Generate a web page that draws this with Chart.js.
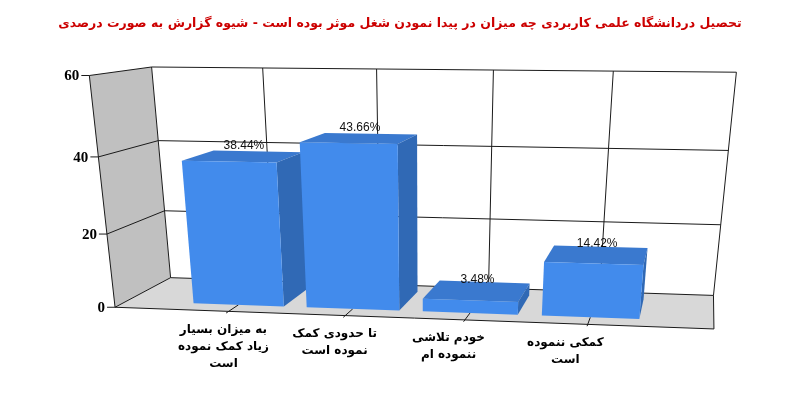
<!DOCTYPE html>
<html lang="fa">
<head>
    <meta charset="UTF-8">
    <title>تحصیل دردانشگاه علمی کاربردی</title>
    <script src="https://cdn.jsdelivr.net/npm/chart.js"></script>
    <style>
        html, body { margin: 0; padding: 0; background: #fff; }
    </style>
</head>
<body>
    <canvas id="chart" width="800" height="400"></canvas>
    <script>
        const titleText = 'تحصیل دردانشگاه علمی کاربردی چه میزان در پیدا نمودن شغل موثر بوده است - شیوه گزارش به صورت درصدی';
        const categories = [
            ['به میزان بسیار', 'زیاد کمک نموده', 'است'],
            ['تا حدودی کمک', 'نموده است'],
            ['خودم تلاشی', 'ننموده ام'],
            ['کمکی ننموده', 'است']
        ];
        const percents = [38.44, 43.66, 3.48, 14.42];
        const catPositions = [1, 2, 3, 4];
        const yTicks = [0, 20, 40, 60];

        // where the corners of the 3d box land on the page: [x, y, depth, px, py]
        const frameRefs = [
            [0, 60, 0, 89, 75], [0, 40, 0, 98, 157], [0, 20, 0, 107, 234], [0, 0, 0, 116, 307],
            [0, 60, 1, 152, 67], [0, 40, 1, 158, 141], [0, 20, 1, 164, 211], [0, 0, 1, 170, 278],
            [5, 60, 1, 737, 73], [5, 40, 1, 728, 150], [5, 20, 1, 721, 224], [5, 0, 1, 714, 295],
            [5, 0, 0, 713, 330],
            [1, 60, 1, 263, 68], [2, 60, 1, 377, 69], [3, 60, 1, 493, 70], [4, 60, 1, 613, 71],
            [1, 0, 0, 229, 311], [2, 0, 0, 346, 316], [3, 0, 0, 464, 319], [4, 0, 0, 588, 325]
        ];

        function solve(M) {
            const n = M.length;
            for (let c = 0; c < n; c++) {
                let p = c;
                for (let r = c + 1; r < n; r++) if (Math.abs(M[r][c]) > Math.abs(M[p][c])) p = r;
                [M[c], M[p]] = [M[p], M[c]];
                for (let r = 0; r < n; r++) {
                    if (r === c) continue;
                    const f = M[r][c] / M[c][c];
                    for (let k = c; k <= n; k++) M[r][k] -= f * M[c][k];
                }
            }
            return M.map((row, i) => row[n] / row[i]);
        }

        // least squares camera from the reference corners
        function fitCamera(pts) {
            const M = Array.from({ length: 11 }, () => new Array(12).fill(0));
            pts.forEach(([X, Y, Z, u, v]) => {
                const rows = [
                    [X, Y, Z, 1, 0, 0, 0, 0, -u * X, -u * Y, -u * Z, u],
                    [0, 0, 0, 0, X, Y, Z, 1, -v * X, -v * Y, -v * Z, v]
                ];
                rows.forEach(row => {
                    for (let i = 0; i < 11; i++)
                        for (let j = 0; j < 12; j++) M[i][j] += row[i] * row[j];
                });
            });
            return solve(M);
        }

        const box3d = {
            id: 'box3d',
            afterDatasetsDraw(chart) {
                const ctx = chart.ctx;
                const xs = chart.scales.x, ys = chart.scales.y, ca = chart.chartArea;
                const W = chart.width, H = chart.height;
                const nx = px => (px - ca.left) / ca.width;
                const ny = py => (py - ca.top) / ca.height;

                const cam = fitCamera(frameRefs.map(([x, y, z, u, v]) =>
                    [nx(xs.getPixelForValue(x)), ny(ys.getPixelForValue(y)), z, u / W, v / H]));

                // flat chart pixel + depth -> page
                function proj(px, py, z) {
                    const X = nx(px), Y = ny(py);
                    const w = cam[8] * X + cam[9] * Y + cam[10] * z + 1;
                    return [W * (cam[0] * X + cam[1] * Y + cam[2] * z + cam[3]) / w,
                            H * (cam[4] * X + cam[5] * Y + cam[6] * z + cam[7]) / w];
                }
                const P = (x, y, z) => proj(xs.getPixelForValue(x), ys.getPixelForValue(y), z);

                function poly(pts, fill) {
                    ctx.beginPath();
                    pts.forEach((p, i) => i ? ctx.lineTo(p[0], p[1]) : ctx.moveTo(p[0], p[1]));
                    ctx.closePath();
                    ctx.fillStyle = fill;
                    ctx.fill();
                }
                function line(a, b) {
                    ctx.beginPath();
                    ctx.moveTo(a[0], a[1]);
                    ctx.lineTo(b[0], b[1]);
                    ctx.stroke();
                }

                const x0 = xs.min, x1 = xs.max, y0 = ys.min, y1 = ys.max;
                ctx.save();

                // walls and floor
                poly([P(x0, y0, 0), P(x0, y1, 0), P(x0, y1, 1), P(x0, y0, 1)], '#c0c0c0');
                poly([P(x0, y0, 1), P(x0, y1, 1), P(x1, y1, 1), P(x1, y0, 1)], '#ffffff');
                poly([P(x0, y0, 0), P(x1, y0, 0), P(x1, y0, 1), P(x0, y0, 1)], '#d8d8d8');

                ctx.strokeStyle = '#1a1a1a';
                ctx.lineWidth = 1;
                yTicks.forEach(t => {
                    line(P(x0, t, 0), P(x0, t, 1));
                    line(P(x0, t, 1), P(x1, t, 1));
                });
                catPositions.forEach(c => line(P(c, y0, 1), P(c, y1, 1)));
                line(P(x0, y0, 0), P(x0, y1, 0));
                line(P(x0, y0, 1), P(x0, y1, 1));
                line(P(x1, y0, 1), P(x1, y1, 1));
                line(P(x0, y0, 0), P(x1, y0, 0));
                line(P(x1, y0, 0), P(x1, y0, 1));

                // y axis ticks and labels
                ctx.font = 'bold 15px "Liberation Serif"';
                ctx.fillStyle = '#000';
                ctx.textAlign = 'right';
                ctx.textBaseline = 'middle';
                yTicks.forEach(t => {
                    const p = P(x0, t, 0);
                    line([p[0] - 8, p[1]], p);
                    ctx.fillText(String(t), p[0] - 10, p[1] + 1);
                });

                // category ticks and labels
                ctx.font = 'bold 12px "DejaVu Sans"';
                ctx.textAlign = 'center';
                catPositions.forEach((c, i) => {
                    line(P(c, y0, -0.05), P(c, y0, 0.2));
                    const a = P(c * 0.955, y0, 0);
                    categories[i].forEach((s, k) => ctx.fillText(s, a[0], a[1] + 19 + k * 17));
                });

                // bars, left to right
                const meta = chart.getDatasetMeta(0);
                const zf = 0.2, zb = 0.8;
                meta.data.forEach(el => {
                    const { x, y, base, width } = el.getProps(['x', 'y', 'base', 'width'], true);
                    const L = x - width / 2, R = x + width / 2;
                    poly([proj(L, y, zf), proj(R, y, zf), proj(R, y, zb), proj(L, y, zb)], '#3a79cf');
                    poly([proj(R, base, zf), proj(R, base, zb), proj(R, y, zb), proj(R, y, zf)], '#3069b5');
                    poly([proj(L, base, zf), proj(R, base, zf), proj(R, y, zf), proj(L, y, zf)], '#428bec');
                });

                // value labels
                ctx.font = '12px "Liberation Sans"';
                ctx.fillStyle = '#111';
                ctx.textBaseline = 'bottom';
                meta.data.forEach((el, i) => {
                    const a = proj(el.x, el.y, 0.5);
                    ctx.fillText(percents[i].toFixed(2) + '%', a[0], a[1] - 5);
                });
                ctx.restore();
            }
        };

        new Chart(document.getElementById('chart'), {
            type: 'bar',
            data: {
                datasets: [{
                    data: percents.map((v, i) => ({ x: catPositions[i], y: v })),
                    backgroundColor: 'rgba(0,0,0,0)',
                    borderWidth: 0,
                    categoryPercentage: 1,
                    barPercentage: 0.8
                }]
            },
            options: {
                responsive: false,
                animation: false,
                events: [],
                scales: {
                    x: { type: 'linear', min: 0, max: 5, offset: false, display: false, ticks: { stepSize: 1 } },
                    y: { min: 0, max: 60, display: false }
                },
                plugins: {
                    legend: { display: false },
                    tooltip: { enabled: false },
                    title: {
                        display: true,
                        text: titleText,
                        color: '#cc0000',
                        font: { family: 'DejaVu Sans', size: 12.5, weight: 'bold' },
                        padding: { top: 16, bottom: 10 }
                    }
                }
            },
            plugins: [box3d]
        });
    </script>
</body>
</html>
